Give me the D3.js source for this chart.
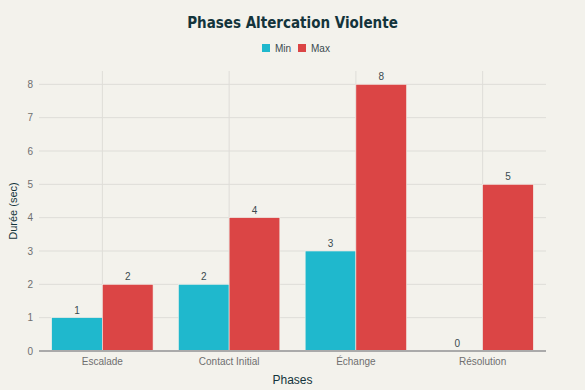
<!DOCTYPE html>
<html>
<head>
<meta charset="utf-8">
<script src="https://cdn.jsdelivr.net/npm/d3@7"></script>
<style>
  body { margin: 0; background: #F3F2EC; }
  svg { display: block; font-family: "Liberation Sans", Arial, sans-serif; }
</style>
</head>
<body>
<svg width="585" height="390"></svg>
<script>
// chart data
const phases = ['Escalade', 'Contact Initial', 'Échange', 'Résolution'];
const seriesNames = ['Min', 'Max'];
const minValues = [1, 2, 3, 0];
const maxValues = [2, 4, 8, 5];
const yTicks = [0, 1, 2, 3, 4, 5, 6, 7, 8];
const colors = ['#1FB8CD', '#DB4545'];

const svg = d3.select('svg');
const width = +svg.attr('width');
const height = +svg.attr('height');
const margin = { top: 71, right: 39, bottom: 39, left: 39 };
const chartWidth = width - margin.left - margin.right;
const chartHeight = height - margin.top - margin.bottom;

svg.append('rect').attr('width', width).attr('height', height).attr('fill', '#F3F2EC');

const x = d3.scaleBand().domain(phases).range([0, chartWidth]).paddingInner(0.2).paddingOuter(0.1);
const xSub = d3.scaleBand().domain(seriesNames).range([0, x.bandwidth()]);
const y = d3.scaleLinear().domain([0, 8.4]).range([chartHeight, 0]);

const chart = svg.append('g').attr('transform', `translate(${margin.left},${margin.top})`);

// grid
chart.selectAll('.hgrid').data(yTicks.slice(1)).enter().append('line')
  .attr('x1', 0).attr('x2', chartWidth)
  .attr('y1', d => y(d)).attr('y2', d => y(d))
  .attr('stroke', '#DEDDD8').attr('stroke-width', 1);
chart.selectAll('.vgrid').data(phases).enter().append('line')
  .attr('x1', d => x(d) + x.bandwidth() / 2).attr('x2', d => x(d) + x.bandwidth() / 2)
  .attr('y1', 0).attr('y2', chartHeight)
  .attr('stroke', '#DEDDD8').attr('stroke-width', 1);

// bars
const rows = phases.map((p, i) => ({ phase: p, values: [minValues[i], maxValues[i]] }));
const groups = chart.selectAll('.grp').data(rows).enter().append('g')
  .attr('transform', d => `translate(${x(d.phase)},0)`);

groups.selectAll('rect').data(d => d.values.map((v, j) => ({ key: seriesNames[j], v, j })))
  .enter().append('rect')
  .attr('x', d => xSub(d.key))
  .attr('y', d => y(d.v))
  .attr('width', xSub.bandwidth())
  .attr('height', d => chartHeight - y(d.v))
  .attr('fill', d => colors[d.j])
  .attr('stroke', '#F3F2EC').attr('stroke-width', 0.6);

groups.selectAll('text').data(d => d.values.map((v, j) => ({ key: seriesNames[j], v, j })))
  .enter().append('text')
  .attr('x', d => xSub(d.key) + xSub.bandwidth() / 2)
  .attr('y', d => y(d.v) - 4)
  .attr('text-anchor', 'middle')
  .attr('font-size', 10).attr('fill', '#3A4A4F')
  .text(d => d.v);

// zero line
chart.append('line')
  .attr('x1', 0).attr('x2', chartWidth)
  .attr('y1', y(0)).attr('y2', y(0))
  .attr('stroke', '#AAAAAA').attr('stroke-width', 2);

// axes
chart.selectAll('.ytick').data(yTicks).enter().append('text')
  .attr('x', -6).attr('y', d => y(d)).attr('dy', '0.35em')
  .attr('text-anchor', 'end').attr('font-size', 10).attr('fill', '#6F6F6F')
  .text(d => d);
chart.selectAll('.xtick').data(phases).enter().append('text')
  .attr('x', d => x(d) + x.bandwidth() / 2).attr('y', chartHeight + 14)
  .attr('text-anchor', 'middle').attr('font-size', 10).attr('fill', '#6F6F6F')
  .text(d => d);

// axis titles
svg.append('text')
  .attr('x', margin.left + chartWidth / 2).attr('y', 384)
  .attr('text-anchor', 'middle').attr('font-size', 12).attr('fill', '#13343B')
  .text('Phases');
svg.append('text')
  .attr('transform', `translate(17,${margin.top + chartHeight / 2}) rotate(-90)`)
  .attr('text-anchor', 'middle').attr('font-size', 11).attr('fill', '#13343B')
  .text('Durée (sec)');

// title
svg.append('text')
  .attr('x', width / 2).attr('y', 28)
  .attr('text-anchor', 'middle').attr('font-size', 15).attr('font-weight', 'bold')
  .attr('font-family', '"DejaVu Sans Condensed", "DejaVu Sans", sans-serif')
  .attr('font-stretch', 'condensed')
  .attr('fill', '#13343B')
  .text('Phases Altercation Violente');

// legend
const legend = svg.append('g').attr('transform', 'translate(262,48)');
seriesNames.forEach((s, i) => {
  const g = legend.append('g').attr('transform', `translate(${i * 36},0)`);
  g.append('rect').attr('x', 0).attr('y', -4).attr('width', 8).attr('height', 8).attr('fill', colors[i]);
  g.append('text').attr('x', 13).attr('y', 0).attr('dy', '0.35em')
    .attr('font-size', 10).attr('fill', '#3A4A4F').text(s);
});
</script>
</body>
</html>
